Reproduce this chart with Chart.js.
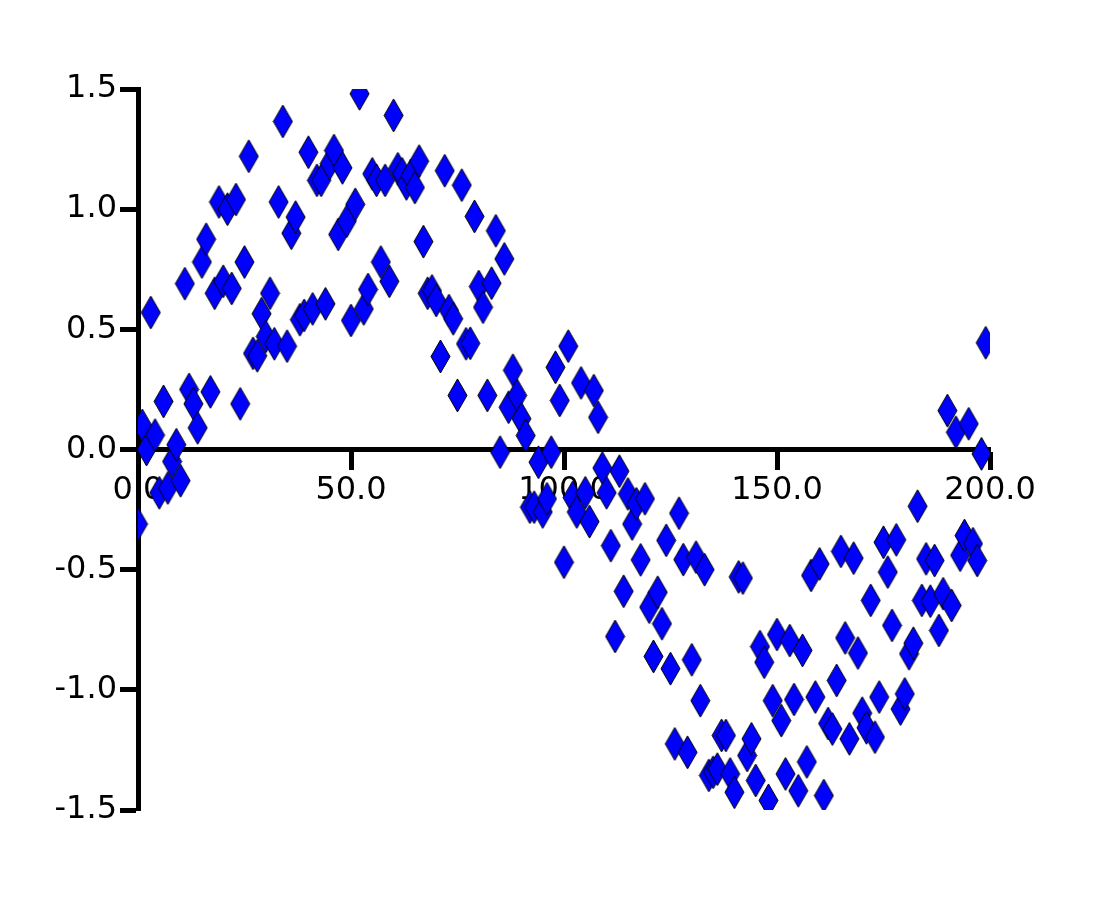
<!DOCTYPE html>
<html>
<head>
<meta charset="utf-8">
<script src="https://cdn.jsdelivr.net/npm/chart.js@4.4.0/dist/chart.umd.min.js"></script>
<style>
  html, body { margin: 0; padding: 0; background: #fff; }
  #wrap { width: 1100px; height: 900px; }
</style>
</head>
<body>
<div id="wrap"><canvas id="scatterChart" width="1100" height="900"></canvas></div>
<script>
// --- Data ---
const xValues = [
    0, 1, 2, 3, 4, 5, 6, 7, 8, 9, 10, 11, 12, 13, 14, 15, 16, 17, 18, 19,
    20, 21, 22, 23, 24, 25, 26, 27, 28, 29, 30, 31, 32, 33, 34, 35, 36, 37, 38, 39,
    40, 41, 42, 43, 44, 45, 46, 47, 48, 49, 50, 51, 52, 53, 54, 55, 56, 57, 58, 59,
    60, 61, 62, 63, 64, 65, 66, 67, 68, 69, 70, 71, 72, 73, 74, 75, 76, 77, 78, 79,
    80, 81, 82, 83, 84, 85, 86, 87, 88, 89, 90, 91, 92, 93, 94, 95, 96, 97, 98, 99,
    100, 101, 102, 103, 104, 105, 106, 107, 108, 109, 110, 111, 112, 113, 114, 115, 116, 117, 118, 119,
    120, 121, 122, 123, 124, 125, 126, 127, 128, 129, 130, 131, 132, 133, 134, 135, 136, 137, 138, 139,
    140, 141, 142, 143, 144, 145, 146, 147, 148, 149, 150, 151, 152, 153, 154, 155, 156, 157, 158, 159,
    160, 161, 162, 163, 164, 165, 166, 167, 168, 169, 170, 171, 172, 173, 174, 175, 176, 177, 178, 179,
    180, 181, 182, 183, 184, 185, 186, 187, 188, 189, 190, 191, 192, 193, 194, 195, 196, 197, 198, 199
];

const yValues = [
    -0.31, 0.10, 0.00, 0.57, 0.06, -0.18, 0.20, -0.16, -0.05, 0.02,
    -0.13, 0.69, 0.25, 0.19, 0.09, 0.78, 0.875, 0.24, 0.65, 1.03,
    0.70, 1.00, 0.67, 1.04, 0.19, 0.78, 1.22, 0.40, 0.39, 0.565,
    0.47, 0.65, 0.44, 1.03, 1.365, 0.43, 0.90, 0.967, 0.54, 0.558,
    1.237, 0.585, 1.12, 1.12, 0.606, 1.19, 1.244, 0.895, 1.172, 0.95,
    0.537, 1.02, 1.48, 0.585, 0.666, 1.147, 1.12, 0.78, 1.12, 0.70,
    1.39, 1.168, 1.147, 1.105, 1.14, 1.09, 1.20, 0.865, 0.65, 0.66,
    0.62, 0.387, 1.16, 0.578, 0.544, 0.225, 1.10, 0.44, 0.442, 0.97,
    0.678, 0.592, 0.225, 0.692, 0.91, -0.011, 0.793, 0.176, 0.33, 0.225,
    0.128, 0.058, -0.24, -0.24, -0.053, -0.26, -0.205, -0.011, 0.342, 0.204,
    -0.469, 0.43, -0.20, -0.26, 0.277, -0.18, -0.30, 0.245, 0.134, -0.077,
    -0.18, -0.40, -0.778, -0.09, -0.59, -0.185, -0.31, -0.226, -0.459, -0.205,
    -0.656, -0.861, -0.594, -0.725, -0.378, -0.912, -1.225, -0.265, -0.458, -1.26,
    -0.875, -0.448, -1.045, -0.50, -1.356, -1.343, -1.33, -1.19, -1.19, -1.35,
    -1.426, -0.53, -0.535, -1.273, -1.204, -1.377, -0.82, -0.885, -1.46, -1.045,
    -0.77, -1.128, -1.35, -0.795, -1.04, -1.42, -0.836, -1.30, -0.524, -1.03,
    -0.476, -1.44, -1.14, -1.163, -0.961, -0.424, -0.784, -1.204, -0.452, -0.847,
    -1.097, -1.158, -0.628, -1.197, -1.03, -0.386, -0.51, -0.732, -0.376, -1.08,
    -1.017, -0.85, -0.806, -0.236, -0.628, -0.455, -0.631, -0.462, -0.753, -0.60,
    0.162, -0.649, 0.072, -0.44, -0.358, 0.107, -0.392, -0.462, -0.018, 0.444
];

const xTicks = [0, 50, 100, 150, 200];
const yTicks = [-1.5, -1.0, -0.5, 0.0, 0.5, 1.0, 1.5];

// --- Tall thin diamond marker ---
function makeDiamond() {
    const c = document.createElement('canvas');
    c.width = 21;
    c.height = 35;
    const g = c.getContext('2d');
    g.beginPath();
    g.moveTo(10.5, 1);
    g.lineTo(20, 17.5);
    g.lineTo(10.5, 34);
    g.lineTo(1, 17.5);
    g.closePath();
    g.fillStyle = '#0000ff';
    g.fill();
    g.lineWidth = 1;
    g.strokeStyle = '#000000';
    g.stroke();
    return c;
}

const points = xValues.map((x, i) => ({ x: x, y: yValues[i] }));
const tickFont = { family: 'DejaVu Sans', size: 32 };

const ctx = document.getElementById('scatterChart').getContext('2d');
new Chart(ctx, {
    type: 'scatter',
    data: {
        datasets: [{
            data: points,
            pointStyle: makeDiamond(),
            pointRadius: 10,
            clip: 0
        }]
    },
    options: {
        responsive: false,
        animation: false,
        events: [],
        layout: { padding: { left: 0, top: 89, right: 110, bottom: 90 } },
        plugins: {
            legend: { display: false },
            tooltip: { enabled: false }
        },
        scales: {
            x: {
                type: 'linear',
                position: { y: 0 },
                min: 0,
                max: 200,
                z: 1,
                afterBuildTicks: axis => { axis.ticks = xTicks.map(v => ({ value: v })); },
                border: { display: true, color: '#000', width: 5 },
                grid: { drawOnChartArea: false, drawTicks: true, tickLength: 18, tickWidth: 5, tickColor: '#000' },
                ticks: {
                    color: '#000',
                    font: tickFont,
                    padding: 4,
                    maxRotation: 0,
                    callback: v => Number(v).toFixed(1)
                }
            },
            y: {
                type: 'linear',
                position: 'left',
                min: -1.5,
                max: 1.5,
                z: 1,
                afterBuildTicks: axis => { axis.ticks = yTicks.map(v => ({ value: v })); },
                afterFit: axis => { axis.width = 138; },
                border: { display: true, color: '#000', width: 5 },
                grid: { drawOnChartArea: false, drawTicks: true, tickLength: 18, tickWidth: 5, tickColor: '#000' },
                ticks: {
                    color: '#000',
                    font: tickFont,
                    padding: 3,
                    callback: v => Number(v).toFixed(1)
                }
            }
        }
    }
});
</script>
</body>
</html>
